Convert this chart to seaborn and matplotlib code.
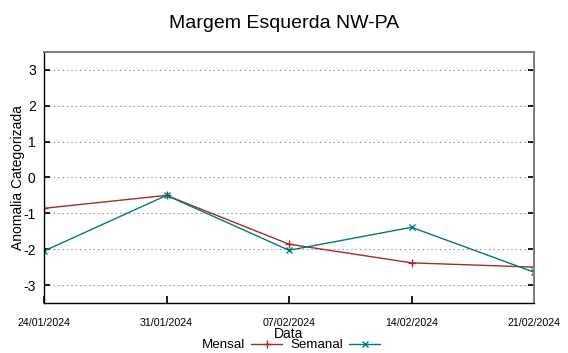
import matplotlib
matplotlib.use("Agg")
import matplotlib.pyplot as plt
import matplotlib.dates as mdates
import pandas as pd
import seaborn as sns

datas = ["2024-01-24", "2024-01-31", "2024-02-07", "2024-02-14", "2024-02-21"]
mensal = [-0.86, -0.5, -1.86, -2.38, -2.5]
semanal = [-2.05, -0.5, -2.03, -1.39, -2.64]
yticks = [-3, -2, -1, 0, 1, 2, 3]

df_mensal = pd.DataFrame({"Data": pd.to_datetime(datas), "valor": mensal})
df_semanal = pd.DataFrame({"Data": pd.to_datetime(datas), "valor": semanal})

sns.set_theme(style="white")
plt.rcParams["font.family"] = ["Liberation Sans", "DejaVu Sans"]
plt.rcParams["axes.unicode_minus"] = False
for chave in ["text.color", "axes.labelcolor", "xtick.color", "ytick.color"]:
    plt.rcParams[chave] = "black"

fig = plt.figure(figsize=(5.68, 3.53), dpi=100)
ax = fig.add_axes([0.0775, 0.1416, 0.8627, 0.7114])

cor_mensal = "#a52a2a"
cor_semanal = "#007a7a"

sns.lineplot(data=df_mensal, x="Data", y="valor", color=cor_mensal, marker="+",
             markersize=6, markeredgewidth=1.0, markeredgecolor=cor_mensal,
             linewidth=1.0, ax=ax, label="Mensal", legend=False)
sns.lineplot(data=df_semanal, x="Data", y="valor", color=cor_semanal, marker="x",
             markersize=5, markeredgewidth=1.0, markeredgecolor=cor_semanal,
             linewidth=1.0, ax=ax, label="Semanal", legend=False)

ax.set_xlim(pd.Timestamp(datas[0]), pd.Timestamp(datas[-1]))
ax.set_ylim(-3.5, 3.5)
ax.set_yticks(yticks)
ax.set_xticks(pd.to_datetime(datas))
ax.xaxis.set_major_formatter(mdates.DateFormatter("%d/%m/%Y"))
ax.tick_params(axis="x", labelsize=7.7, direction="in", length=5, pad=11,
               bottom=True, top=False, color="black")
ax.tick_params(axis="y", labelsize=10, direction="in", length=4, pad=6,
               left=True, right=True, color="black")
ax.yaxis.grid(True, linestyle=(0, (1.5, 2.5)), color="#a0a0a0", linewidth=0.8)
ax.xaxis.grid(False)

for lado in ["left", "bottom"]:
    ax.spines[lado].set_color("black")
    ax.spines[lado].set_linewidth(1.0)
for lado in ["top", "right"]:
    ax.spines[lado].set_color("#808080")
    ax.spines[lado].set_linewidth(1.5)

ax.set_xlabel("Data", fontsize=10, labelpad=-1)
ax.set_ylabel("Anomalia Categorizada", fontsize=10)
ax.yaxis.set_label_coords(-0.039, 0.5)
fig.suptitle("Margem Esquerda NW-PA", fontsize=14, y=0.958)

handles, labels = ax.get_legend_handles_labels()
fig.legend(handles, labels, loc="center", bbox_to_anchor=(0.512, 1 - 345 / 353),
           ncol=2, frameon=False, markerfirst=False, fontsize=9.6, handlelength=2.3,
           columnspacing=0.6, handletextpad=0.5, borderpad=0, borderaxespad=0)

fig.savefig("out.png", dpi=100)
